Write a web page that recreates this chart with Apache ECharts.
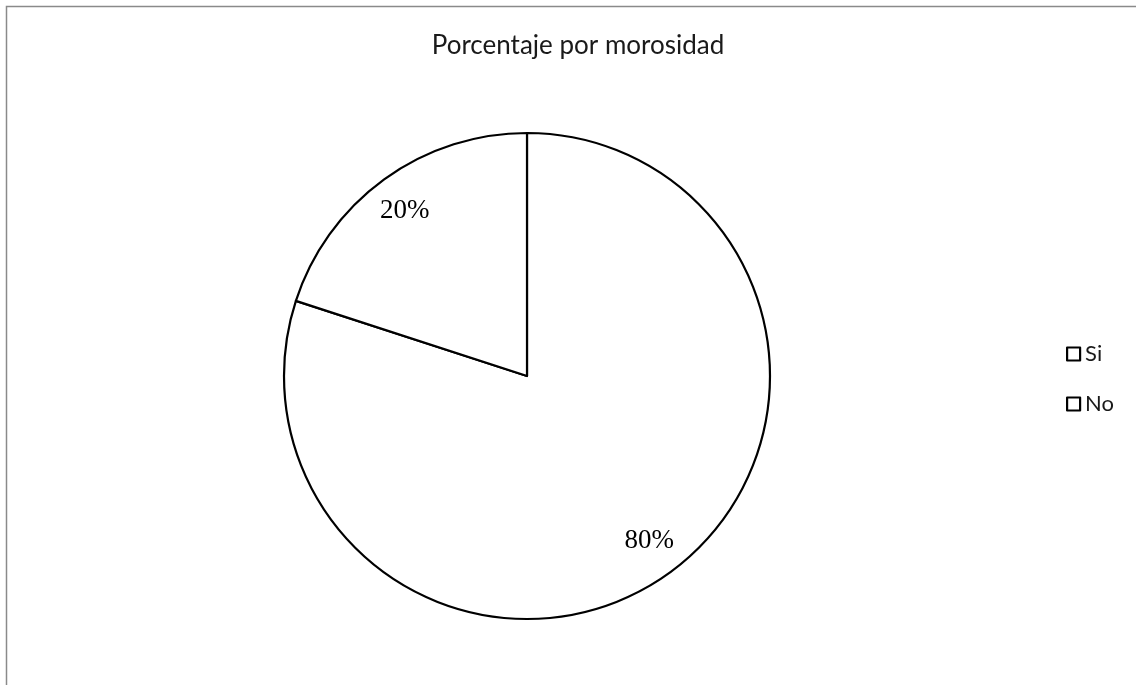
<!DOCTYPE html>
<html>
<head>
<meta charset="utf-8">
<script src="https://cdn.jsdelivr.net/npm/echarts@6/dist/echarts.min.js"></script>
<style>
html,body{margin:0;padding:0;background:#fff;}
#chart{width:1136px;height:685px;}
</style>
</head>
<body>
<div id="chart"></div>
<script>
const titleText = 'Porcentaje por morosidad';
const categories = ['Si', 'No'];
const values = [80, 20];

const pieData = categories.map((c, i) => ({ name: c, value: values[i] }));

const chart = echarts.init(document.getElementById('chart'));
chart.setOption({
  animation: false,
  backgroundColor: '#fff',
  graphic: [{
    type: 'rect',
    shape: { x: 6.5, y: 6.5, width: 2000, height: 2000 },
    style: { fill: 'none', stroke: '#8a8a8a', lineWidth: 1.5 },
    silent: true
  }],
  title: {
    text: titleText,
    left: 573,
    top: 28,
    textAlign: 'center',
    textStyle: { fontFamily: 'Lato', fontWeight: 'normal', fontSize: 26, color: '#1a1a1a' }
  },
  legend: {
    orient: 'vertical',
    left: 1061,
    top: 338,
    itemWidth: 13,
    itemHeight: 13,
    itemGap: 28,
    icon: 'rect',
    data: categories.map(c => ({ name: c, itemStyle: { color: '#fff', borderColor: '#000', borderWidth: 2.2 } })),
    textStyle: { fontFamily: 'Lato', fontSize: 22, color: '#1a1a1a', padding: [0, 0, 0, 0] }
  },
  series: [
    {
      type: 'pie',
      center: [527, 376],
      radius: 243,
      startAngle: 90,
      clockwise: true,
      silent: true,
      label: { show: false },
      labelLine: { show: false },
      itemStyle: { color: '#fff', borderColor: '#000', borderWidth: 2.2 },
      data: pieData
    },
    {
      type: 'pie',
      center: [527, 376],
      radius: [162, 243],
      startAngle: 90.5,
      clockwise: true,
      silent: true,
      legendHoverLink: false,
      itemStyle: { color: 'rgba(0,0,0,0)', borderWidth: 0 },
      label: {
        show: true,
        position: 'inside',
        formatter: p => p.value + '%',
        fontFamily: 'Liberation Serif',
        fontSize: 27,
        color: '#000'
      },
      labelLine: { show: false },
      data: pieData
    }
  ]
});
</script>
</body>
</html>
